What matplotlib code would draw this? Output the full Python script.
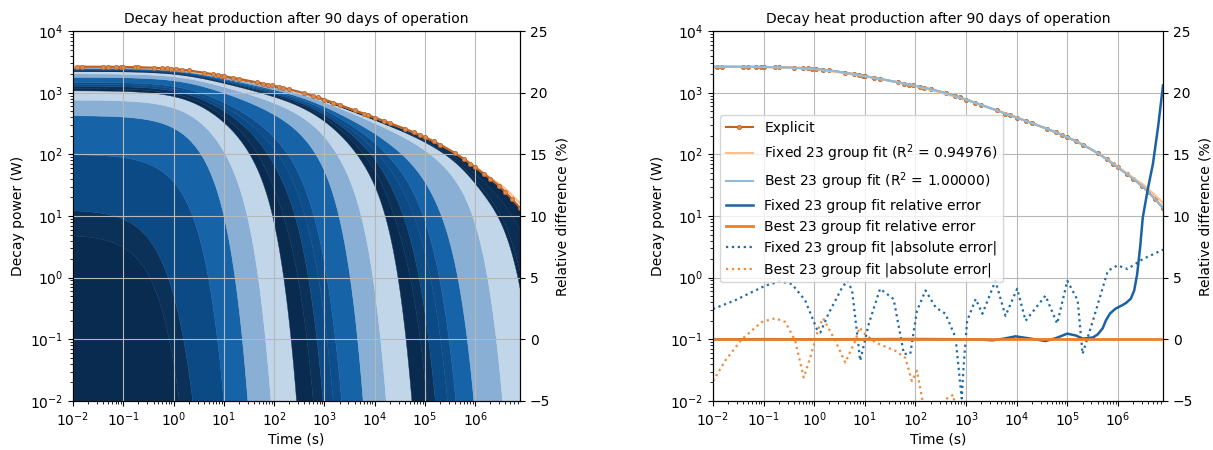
import numpy as np
import matplotlib
matplotlib.use("Agg")
import matplotlib.pyplot as plt

# 23 decay groups of the fit (bottom of the stack = fastest group)
group_amplitude_w = [5, 7.6, 87, 325, 335, 315, 90, 108, 100, 100, 300, 250, 180,
                     50, 50, 45, 45, 70, 104, 45, 6, 12, 14]
group_decay_const = [4.78, 2.76, 0.907, 0.346, 0.120, 0.0370, 0.01517, 0.00988,
                     0.00614, 0.00419, 1.747e-3, 5.96e-4, 1.78e-4, 7.74e-5, 5.32e-5,
                     3.0e-5, 2.05e-5, 9.42e-6, 2.64e-6, 5.5e-7, 3.0e-7, 1.2e-7, 8.0e-8]

# times of the explicit calculation (s)
explicit_times = [0.012, 0.015, 0.04, 0.05, 0.07, 0.09, 0.1, 0.17, 0.2, 0.4, 0.6, 0.75,
                  0.9, 1.1, 1.5, 2, 4, 6, 7.5, 9, 10, 15, 20, 45, 60, 75, 90, 125, 150,
                  200, 400, 600, 750, 1000, 1500, 2000, 4000, 6000, 7500, 1e4, 1.5e4,
                  2e4, 4e4, 6e4, 8e4, 1e5, 1.5e5, 2e5, 4e5, 6e5, 8e5, 1e6, 1.5e6, 2e6,
                  3e6, 4e6, 5.5e6, 7.776e6]

# relative error of the fits (%)
rel_err_times = [0.01, 0.1, 1, 10, 100, 1000, 2000, 3300, 5500, 9500, 1.6e4, 3.7e4,
                 6e4, 1e5, 1.5e5, 2e5, 3.2e5, 4e5, 5e5, 5.8e5, 7e5, 9e5, 1.2e6, 1.45e6,
                 1.8e6, 2.1e6, 2.4e6, 2.75e6, 3.1e6, 3.9e6, 4.9e6, 6.2e6, 7.776e6]
fixed_rel_err = [0.0, 0.01, 0.0, 0.01, 0.02, 0.0, -0.02, -0.08, 0.05, 0.24, 0.1, -0.14,
                 0.1, 0.46, 0.3, 0.05, 0.15, 0.4, 0.9, 1.54, 2.1, 2.49, 2.75, 2.95,
                 3.3, 3.97, 5.3, 7.5, 9.9, 12.2, 14.2, 17.2, 20.6]
best_rel_err = [0.0] * 33

# |absolute error| of the fits (W)
fixed_abs_times = [0.01, 0.0275, 0.107, 0.21, 0.36, 0.66, 1.12, 1.32, 1.9, 3.55, 4.5,
                   5.6, 8.1, 12, 20, 37, 59, 79, 107, 158, 250, 390, 620, 760, 820, 900,
                   1050, 1550, 2100, 3800, 6000, 1.02e4, 1.5e4, 3.7e4, 6.3e4, 1e5,
                   1.6e5, 2e5, 3.2e5, 6.3e5, 9.8e5, 1.55e6, 3.1e6, 7.1e6, 7.776e6]
fixed_abs_err = [0.31, 0.43, 0.74, 0.87, 0.79, 0.43, 0.148, 0.129, 0.257, 0.69, 0.89,
                 0.62, 0.045, 0.18, 0.66, 0.45, 0.058, 0.058, 0.29, 0.62, 0.33, 0.26,
                 0.107, 0.02, 0.011, 0.04, 0.2, 0.45, 0.26, 0.89, 0.24, 0.66, 0.2,
                 0.51, 0.18, 0.89, 0.43, 0.058, 0.2, 1.29, 1.58, 1.38, 2.0, 2.75, 2.85]
best_abs_times = [0.01, 0.0174, 0.037, 0.091, 0.17, 0.27, 0.42, 0.62, 0.83, 1.23, 1.5,
                  2.6, 4.1, 6.5, 7.8, 10.2, 16, 40, 63, 85, 107, 135, 180, 350, 420,
                  560, 700, 3000, 1e5, 7.776e6]
best_abs_err = [0.021, 0.045, 0.1, 0.19, 0.22, 0.19, 0.095, 0.024, 0.05, 0.155, 0.22,
                0.095, 0.042, 0.095, 0.155, 0.12, 0.089, 0.065, 0.05, 0.021, 0.031,
                0.011, 0.004, 0.005, 0.011, 0.0126, 0.003, 0.002, 0.001, 0.002]

t_end = 90 * 24 * 3600
title = "Decay heat production after 90 days of operation"
layer_colors = ["#0a2b50", "#0b3159", "#0c4a86", "#1663a8", "#89afd4", "#c2d6ea",
                "#0a2b50", "#0b3159", "#0c4a86", "#0d4d8a", "#1663a8", "#89afd4",
                "#c2d6ea", "#0a2b50", "#0b3159", "#0c4a86", "#0d4d8a", "#1663a8",
                "#89afd4", "#c2d6ea", "#0a2b50", "#0b2e55", "#0a2b50"]


def group_power(t):
    t = np.asarray(t, dtype=float)
    a = np.array(group_amplitude_w)[:, None]
    lam = np.array(group_decay_const)[:, None]
    return a * np.exp(-lam * t[None, :])


t_grid = np.logspace(-2, np.log10(t_end), 700)
layers = group_power(t_grid)
explicit_power = group_power(explicit_times).sum(axis=0)
best_fit = layers.sum(axis=0)
fixed_fit = group_power(rel_err_times).sum(axis=0) * (1 + np.array(fixed_rel_err) / 100)

fig = plt.figure(figsize=(12.13, 4.5), dpi=100)
ax_l = fig.add_axes([0.0602, 0.109, 0.3685, 0.822])
ax_r = fig.add_axes([0.5878, 0.109, 0.371, 0.822])

explicit_kw = dict(color="#c0601f", marker="o", markersize=3, markerfacecolor="#e08a45",
                   markeredgecolor="#b86a3a", markeredgewidth=0.6, lw=1.5)

# left: stacked groups
cum = np.cumsum(layers, axis=0)
lower = np.full_like(t_grid, 1e-8)
for i in range(len(group_amplitude_w)):
    upper = np.maximum(cum[i], 1e-8)
    ax_l.fill_between(t_grid, lower, upper, color=layer_colors[i], lw=0.3)
    lower = upper
ax_l.plot(rel_err_times, fixed_fit, color="#ffbf86", lw=1.5)
ax_l.plot(explicit_times, explicit_power, **explicit_kw)

# right: fits and errors
ax_r.plot(explicit_times, explicit_power, label="Explicit", **explicit_kw)
ax_r.plot(rel_err_times, fixed_fit, color="#ffbf86", lw=1.5,
          label=r"Fixed 23 group fit (R$^2$ = 0.94976)")
ax_r.plot(t_grid, best_fit, color="#8fbbd9", lw=1.5,
          label=r"Best 23 group fit (R$^2$ = 1.00000)")
ax_r.plot(fixed_abs_times, fixed_abs_err, ls=":", color="#1f6aa5", lw=1.6,
          label="Fixed 23 group fit |absolute error|")
ax_r.plot(best_abs_times, best_abs_err, ls=":", color="#f08a3c", lw=1.6,
          label="Best 23 group fit |absolute error|")

for ax in (ax_l, ax_r):
    ax.set_xscale("log")
    ax.set_yscale("log")
    ax.set_xlim(1e-2, t_end)
    ax.set_ylim(1e-2, 1e4)
    ax.grid(True, which="major", color="#b8b8b8", lw=0.8)
    ax.set_xlabel("Time (s)", fontsize=10, labelpad=2)
    ax.set_ylabel("Decay power (W)", fontsize=10)
    ax.set_title(title, fontsize=10)

tw_l = ax_l.twinx()
tw_r = ax_r.twinx()
tw_r.plot(rel_err_times, fixed_rel_err, color="#1a62a3", lw=1.8,
          label="Fixed 23 group fit relative error")
tw_r.plot(rel_err_times, best_rel_err, color="#f07d22", lw=2.0,
          label="Best 23 group fit relative error")
for tw in (tw_l, tw_r):
    tw.set_ylim(-5, 25)
    tw.set_ylabel("Relative difference (%)", fontsize=10)

h1, l1 = ax_r.get_legend_handles_labels()
h2, l2 = tw_r.get_legend_handles_labels()
order = [0, 1, 2, 5, 6, 3, 4]
handles = (h1 + h2)
labels = (l1 + l2)
handles = [handles[i] for i in order]
labels = [labels[i] for i in order]
tw_r.legend(handles, labels, loc="center left", bbox_to_anchor=(0.0, 0.546),
            fontsize=10)

fig.savefig("out.png", dpi=100)
